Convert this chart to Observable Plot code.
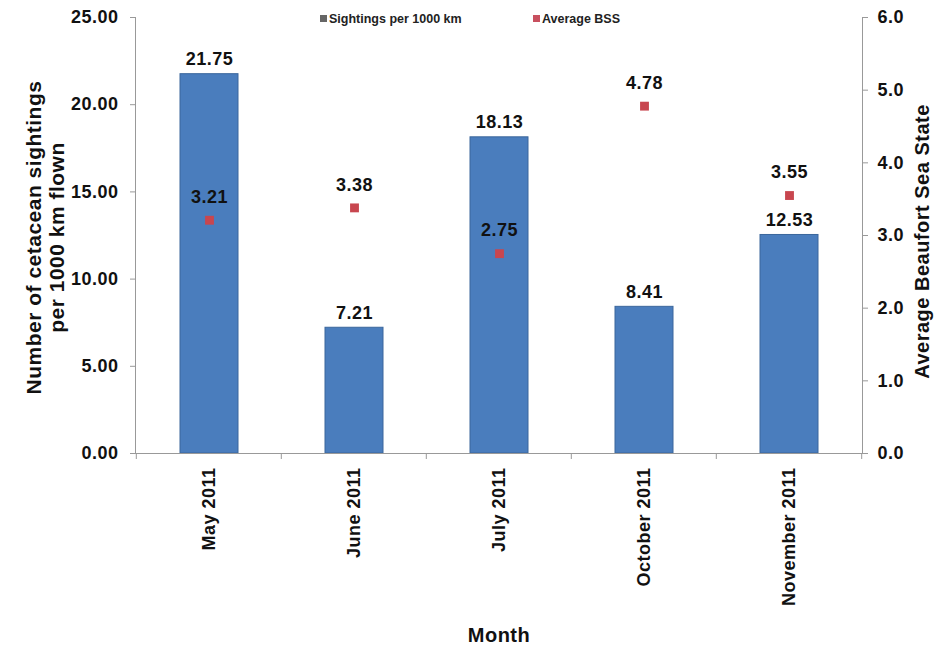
<!DOCTYPE html>
<html><head><meta charset="utf-8">
<script src="https://cdn.jsdelivr.net/npm/d3@7"></script>
<script src="https://cdn.jsdelivr.net/npm/@observablehq/plot@0.6"></script>
<style>
body{margin:0;background:#fff;}
#wrap{position:relative;width:935px;height:650px;font-family:"Liberation Sans",Arial,sans-serif;}
.legend{position:absolute;top:12px;left:320px;font-size:12.5px;font-weight:bold;color:#222;white-space:nowrap;}
.legend div{position:absolute;top:0;}
.legend span.sw{display:inline-block;width:7px;height:7px;margin-right:2px;vertical-align:1px;}
svg text{letter-spacing:0.5px;}
</style>
</head><body>
<div id="wrap">
<div class="legend">
  <div style="left:0px"><span class="sw" style="background:#666"></span>Sightings per 1000 km</div>
  <div style="left:213px"><span class="sw" style="background:#c8505f"></span>Average BSS</div>
</div>
</div>
<script>
const months = ["May 2011","June 2011","July 2011","October 2011","November 2011"];
const sightings = [21.75, 7.21, 18.13, 8.41, 12.53];
const bss = [3.21, 3.38, 2.75, 4.78, 3.55];
const leftTicks = [0, 5, 10, 15, 20, 25];
const rightTicks = [0, 1, 2, 3, 4, 5, 6];
const leftMax = 25, rightMax = 6;
const k = leftMax / rightMax;

const data = months.map((m, i) => ({month: m, sightings: sightings[i], bss: bss[i]}));

const boundaryTicks = (index, scales, values, dims) => {
  const g = d3.create("svg:g").attr("stroke", "#999");
  const plotW = dims.width - dims.marginLeft - dims.marginRight;
  const step = plotW / months.length;
  const yb = dims.height - dims.marginBottom;
  for (let i = 0; i <= months.length; i++) {
    const xx = i < months.length ? scales.x(months[i]) + scales.x.bandwidth() / 2 - step / 2 : scales.x(months[i - 1]) + scales.x.bandwidth() / 2 + step / 2;
    g.append("line").attr("x1", xx).attr("x2", xx).attr("y1", yb).attr("y2", yb + 6);
  }
  return g.node();
};

const chart = Plot.plot({
  width: 935,
  height: 650,
  marginLeft: 135,
  marginRight: 73,
  marginTop: 17,
  marginBottom: 197,
  style: {fontFamily: "Liberation Sans, Arial, sans-serif", fontWeight: "bold", color: "#111", background: "transparent"},
  x: {domain: months, paddingInner: 0.6, paddingOuter: 0.3, axis: null},
  y: {domain: [0, leftMax], axis: null},
  marks: [
    Plot.barY(data, {x: "month", y: "sightings", fill: "#4a7dbd", stroke: "#3b679c", strokeWidth: 1}),
    Plot.frame({anchor: "left", stroke: "#999"}),
    Plot.frame({anchor: "right", stroke: "#999"}),
    Plot.frame({anchor: "bottom", stroke: "#999"}),
    boundaryTicks,
    Plot.axisY({anchor: "left", ticks: leftTicks, tickFormat: d => d.toFixed(2), tickSize: 5, tickPadding: 12, fontSize: 18, stroke: "#999", label: null}),
    Plot.axisY({anchor: "right", ticks: rightTicks.map(v => v * k), tickFormat: d => (d / k).toFixed(1), tickSize: 5, tickPadding: 10, fontSize: 18, stroke: "#999", label: null}),
    Plot.axisX({anchor: "bottom", tickRotate: -90, tickSize: 0, tickPadding: 14, fontSize: 18, label: null}),
    Plot.text(data, {x: "month", y: "sightings", text: d => d.sightings.toFixed(2), dy: -15, fontSize: 18, fill: "#111"}),
    Plot.dot(data, {x: "month", y: d => d.bss * k, symbol: "square", r: 5, fill: "#c8464f", stroke: "none"}),
    Plot.text(data, {x: "month", y: d => d.bss * k, text: d => d.bss.toFixed(2), dy: -23, fontSize: 18, fill: "#111"}),
    Plot.text(["Number of cetacean sightings\nper 1000 km flown"], {frameAnchor: "left", textAnchor: "middle", rotate: -90, dx: -90, dy: 2, fontSize: 21, lineHeight: 1.08, fill: "#111"}),
    Plot.text(["Average Beaufort Sea State"], {frameAnchor: "right", textAnchor: "middle", rotate: -90, dx: 60, dy: 6, fontSize: 20, fill: "#111"}),
    Plot.text(["Month"], {frameAnchor: "bottom", dy: 188, fontSize: 20, fill: "#111"})
  ]
});
document.getElementById("wrap").appendChild(chart);
</script>
</body></html>
